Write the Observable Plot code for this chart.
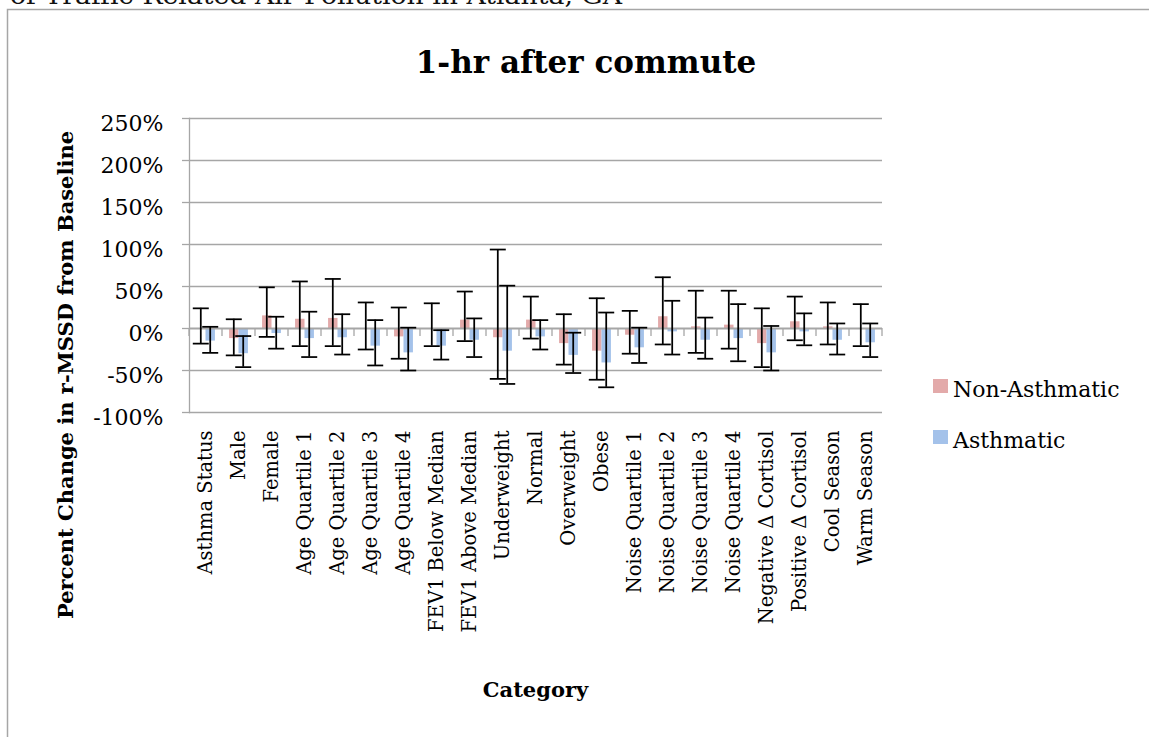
<!DOCTYPE html>
<html>
<head>
<meta charset="utf-8">
<script src="https://cdn.jsdelivr.net/npm/d3@7"></script>
<script src="https://cdn.jsdelivr.net/npm/@observablehq/plot@0.6"></script>
<style>
  html, body { margin: 0; padding: 0; background: #fff; overflow: hidden; }
  #wrap { position: relative; width: 1149px; height: 737px; overflow: hidden; }
  #chart, #overlay { position: absolute; left: 0; top: 0; }
  #overlay { pointer-events: none; }
  #chart svg [aria-label^="y-axis"] line,
  #chart svg [aria-label^="y-axis"] path,
  #chart svg [aria-label="y-axis tick"],
  #chart svg [aria-label="frame"] { stroke: #A6A6A6; stroke-width: 1.3px; }
</style>
</head>
<body>
<div id="wrap">
  <div id="chart"></div>
  <svg id="overlay" width="1149" height="737" font-family="DejaVu Serif"></svg>
</div>
<script>
// ---- data (percent change from baseline) ----
const categories = ["Asthma Status","Male","Female","Age Quartile 1","Age Quartile 2","Age Quartile 3","Age Quartile 4","FEV1 Below Median","FEV1 Above Median","Underweight","Normal","Overweight","Obese","Noise Quartile 1","Noise Quartile 2","Noise Quartile 3","Noise Quartile 4","Negative Δ Cortisol","Positive Δ Cortisol","Cool Season","Warm Season"];
const nonAsthmatic   = [0, -12, 15, 11, 12, 0, -10, 0, 10, -11, 10, -18, -27, -8, 14, 2, 4, -18, 8, 2, 0];
const nonAsthmaticLo = [-18, -32, -10, -21, -21, -25, -36, -21, -15, -60, -12, -43, -61, -30, -19, -29, -24, -46, -14, -19, -21];
const nonAsthmaticHi = [24, 11, 49, 56, 59, 31, 25, 30, 44, 94, 38, 17, 36, 21, 61, 45, 45, 24, 38, 31, 29];
const asthmatic      = [-15, -30, -6, -12, -11, -21, -29, -21, -14, -27, -10, -32, -41, -23, -4, -14, -12, -29, -4, -14, -17];
const asthmaticLo    = [-29, -46, -24, -34, -31, -44, -50, -37, -34, -66, -25, -53, -70, -41, -31, -36, -39, -50, -20, -31, -34];
const asthmaticHi    = [2, -9, 14, 20, 17, 10, 1, -2, 12, 51, 10, -5, 19, 1, 33, 13, 29, 3, 18, 6, 6];
const yTicks = [-1, -0.5, 0, 0.5, 1, 1.5, 2, 2.5];
const seriesNames = ["Non-Asthmatic", "Asthmatic"];
const seriesColors = ["#E3AAAA", "#A4C2EA"];

// ---- layout ----
const W = 1149, H = 737;
const mL = 189, mR = 267, mT = 118, mB = 325;
const bw = (W - mL - mR) / categories.length;   // band width per category
const barW = bw / 3.5;                          // Excel gap width 150%
const lw = 1.75, capW = 16, tickW = 1.3;

const rows = categories.map((c, i) => ({
  c,
  nv: nonAsthmatic[i] / 100, nlo: nonAsthmaticLo[i] / 100, nhi: nonAsthmaticHi[i] / 100,
  av: asthmatic[i] / 100, alo: asthmaticLo[i] / 100, ahi: asthmaticHi[i] / 100
}));
const last = [categories[categories.length - 1]];
const pct = d => Math.round(d * 100) + "%";

const grid = "#A6A6A6";
const plot = Plot.plot({
  width: W, height: H,
  marginLeft: mL, marginRight: mR, marginTop: mT, marginBottom: mB,
  style: { fontFamily: "DejaVu Serif", fontSize: "19.5px", color: "black", background: "transparent", overflow: "visible" },
  x: { domain: categories, padding: 0, round: false, tickSize: 0, tickPadding: 18, tickRotate: -90, label: null },
  y: { domain: [-1, 2.5], ticks: yTicks, tickFormat: () => "", tickSize: 7, tickPadding: 19, label: null, line: true },
  marks: [
    Plot.ruleY(yTicks.filter(d => d !== 0), { stroke: grid, strokeWidth: 1.3 }),
    // y tick labels
    Plot.text(yTicks, { y: d => d, text: pct, frameAnchor: "left", textAnchor: "end", dx: -26, dy: 5, fontSize: 22, fill: "black" }),
    // bars
    Plot.barY(rows, { x: "c", y1: 0, y2: "nv", fill: seriesColors[0], insetLeft: bw / 2 - barW, insetRight: bw / 2 }),
    Plot.barY(rows, { x: "c", y1: 0, y2: "av", fill: seriesColors[1], insetLeft: bw / 2, insetRight: bw / 2 - barW }),
    // category axis at zero
    Plot.ruleY([0], { stroke: grid, strokeWidth: 2 }),
    Plot.barY(categories, { x: d => d, y1: 0, y2: 0, insetBottom: -8, insetLeft: -tickW / 2, insetRight: bw - tickW / 2, fill: grid }),
    Plot.barY(last, { x: d => d, y1: 0, y2: 0, insetBottom: -8, insetLeft: bw - tickW / 2, insetRight: -tickW / 2, fill: grid }),
    // error bars: Non-Asthmatic
    Plot.barY(rows, { x: "c", y1: "nlo", y2: "nhi", fill: "black", insetLeft: bw / 2 - barW / 2 - lw / 2, insetRight: bw / 2 + barW / 2 - lw / 2 }),
    Plot.tickY(rows, { x: "c", y: "nlo", stroke: "black", strokeWidth: lw, insetLeft: bw / 2 - barW / 2 - capW / 2, insetRight: bw / 2 + barW / 2 - capW / 2 }),
    Plot.tickY(rows, { x: "c", y: "nhi", stroke: "black", strokeWidth: lw, insetLeft: bw / 2 - barW / 2 - capW / 2, insetRight: bw / 2 + barW / 2 - capW / 2 }),
    // error bars: Asthmatic
    Plot.barY(rows, { x: "c", y1: "alo", y2: "ahi", fill: "black", insetLeft: bw / 2 + barW / 2 - lw / 2, insetRight: bw / 2 - barW / 2 - lw / 2 }),
    Plot.tickY(rows, { x: "c", y: "alo", stroke: "black", strokeWidth: lw, insetLeft: bw / 2 + barW / 2 - capW / 2, insetRight: bw / 2 - barW / 2 - capW / 2 }),
    Plot.tickY(rows, { x: "c", y: "ahi", stroke: "black", strokeWidth: lw, insetLeft: bw / 2 + barW / 2 - capW / 2, insetRight: bw / 2 - barW / 2 - capW / 2 })
  ]
});
document.getElementById("chart").appendChild(plot);

// ---- overlay: titles, legend, frame ----
const ov = d3.select("#overlay");
ov.append("text").attr("x", 10).attr("y", 4).attr("font-size", 25).attr("fill", "#111")
  .attr("textLength", 612).attr("lengthAdjust", "spacingAndGlyphs")
  .text("of Traffic-Related Air Pollution in Atlanta, GA");
ov.append("rect").attr("x", 7.5).attr("y", 9.5).attr("width", 1200).attr("height", 800)
  .attr("fill", "none").attr("stroke", grid).attr("stroke-width", 1.5);
ov.append("text").attr("x", 586).attr("y", 73).attr("text-anchor", "middle")
  .attr("font-size", 31).attr("font-weight", "bold").text("1-hr after commute");
ov.append("text").attr("transform", "translate(73,375) rotate(-90)").attr("text-anchor", "middle")
  .attr("font-size", 21).attr("font-weight", "bold").text("Percent Change in r-MSSD from Baseline");
ov.append("text").attr("x", (mL + W - mR) / 2).attr("y", 697).attr("text-anchor", "middle")
  .attr("font-size", 21).attr("font-weight", "bold").text("Category");
seriesNames.forEach((name, i) => {
  const y0 = 379 + i * 51;
  ov.append("rect").attr("x", 933).attr("y", y0).attr("width", 15).attr("height", 14).attr("fill", seriesColors[i]);
  ov.append("text").attr("x", 953).attr("y", y0 + 18).attr("font-size", 22).text(name);
});
</script>
</body>
</html>
